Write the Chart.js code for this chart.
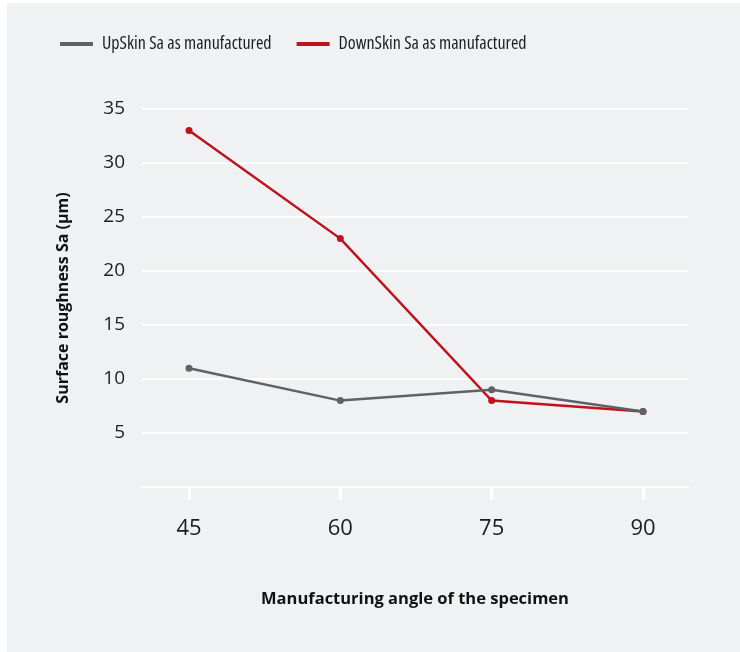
<!DOCTYPE html>
<html>
<head>
<meta charset="utf-8">
<title>Surface roughness vs manufacturing angle</title>
<script src="https://cdn.jsdelivr.net/npm/chart.js@4/dist/chart.umd.min.js"></script>
<style>
  html, body { margin: 0; padding: 0; background: #ffffff; }
  #panel {
    position: absolute; left: 7px; top: 3px;
    width: 733px; height: 649px;
    background: #f0f1f3;
  }
  #chart { display: block; }
</style>
</head>
<body>
<div id="panel"><canvas id="chart" width="733" height="649"></canvas></div>
<script>
// Manufacturing angles (degrees) of the printed specimens
const angles = [45, 60, 75, 90];
// Surface roughness Sa (µm), as manufactured
const upSkinSa = [11, 8, 9, 7];
const downSkinSa = [33, 23, 8, 7];
// Y-axis tick values
const yTicks = [0, 5, 10, 15, 20, 25, 30, 35];

const GRAY = '#5d6266';
const RED = '#c0121c';
const INK = '#1d1d1f';
const FAMILY = '"Open Sans", "Noto Sans", sans-serif';
// the weight field also carries the width keyword, selecting the narrow face
const CONDENSED = 'condensed';

const toPoints = (vals) => angles.map((a, i) => ({ x: a, y: vals[i] }));

const lineSet = (label, vals, color) => ({
  label,
  data: toPoints(vals),
  borderColor: color,
  backgroundColor: color,
  borderWidth: 2.5,
  pointRadius: 3.5,
  pointBackgroundColor: color,
  pointBorderColor: color,
  pointBorderWidth: 0,
  tension: 0
});

new Chart(document.getElementById('chart'), {
  type: 'line',
  data: {
    datasets: [
      lineSet('UpSkin Sa as manufactured', upSkinSa, GRAY),
      lineSet('DownSkin Sa as manufactured', downSkinSa, RED)
    ]
  },
  options: {
    responsive: false,
    animation: false,
    events: [],
    layout: { padding: { top: 7, right: 52, bottom: 0, left: 28 } },
    plugins: {
      tooltip: { enabled: false },
      legend: {
        position: 'top',
        align: 'start',
        labels: {
          font: { family: FAMILY, size: 18, weight: CONDENSED },
          color: INK,
          boxWidth: 33,
          boxHeight: 4,
          padding: 25,
          generateLabels(chart) {
            return chart.data.datasets.map((ds, i) => ({
              text: ds.label,
              fillStyle: ds.borderColor,
              strokeStyle: ds.borderColor,
              lineWidth: 0,
              fontColor: INK,
              hidden: false,
              datasetIndex: i
            }));
          }
        }
      },
      // empty spacer between the legend and the plot
      subtitle: {
        display: true,
        text: '',
        weight: 500,
        font: { size: 10 },
        padding: { top: 34, bottom: 0 }
      }
    },
    scales: {
      x: {
        type: 'linear',
        min: 40.34,
        max: 94.46,
        afterBuildTicks(scale) {
          scale.ticks = angles.map(v => ({ value: v }));
        },
        afterFit(scale) { scale.height = 165; },
        border: { display: true, color: '#ffffff', width: 2 },
        grid: {
          drawOnChartArea: false,
          drawTicks: true,
          tickLength: 13,
          tickWidth: 3,
          color: '#ffffff'
        },
        ticks: {
          font: { family: FAMILY, size: 22 },
          color: INK,
          padding: 16,
          maxRotation: 0,
          callback: (v) => String(v)
        },
        title: {
          display: true,
          text: 'Manufacturing angle of the specimen',
          font: { family: FAMILY, size: 16.5, weight: 'bold' },
          color: '#111111',
          padding: { top: 0, bottom: 43 }
        }
      },
      y: {
        min: 0,
        max: 35,
        afterBuildTicks(scale) {
          scale.ticks = yTicks.map(v => ({ value: v }));
        },
        afterFit(scale) { scale.width = 107; },
        border: { display: false },
        grid: {
          color: '#ffffff',
          lineWidth: 2,
          drawTicks: false
        },
        ticks: {
          font: { family: FAMILY, size: 19 },
          color: INK,
          padding: 17,
          callback: (v) => (v === 0 ? '' : String(v))
        },
        title: {
          display: true,
          text: 'Surface roughness Sa (μm)',
          font: { family: FAMILY, size: 16, weight: 'bold' },
          color: '#111111',
          padding: { top: 19, bottom: 0 }
        }
      }
    }
  }
});
</script>
</body>
</html>
